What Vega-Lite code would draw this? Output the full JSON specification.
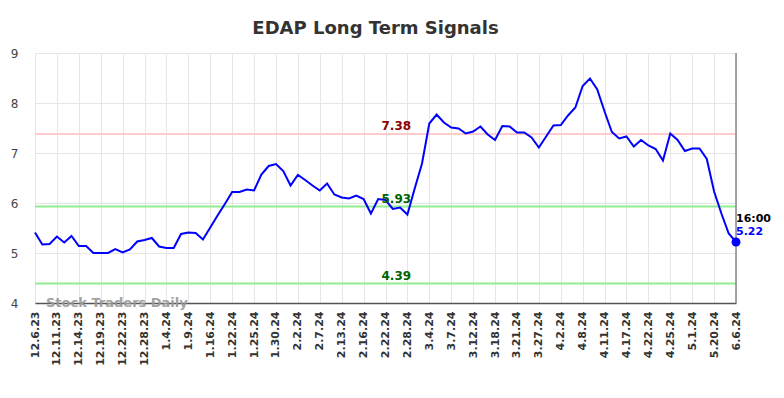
{
  "$schema": "https://vega.github.io/schema/vega-lite/v6.json",
  "width": 701,
  "height": 250,
  "autosize": {"type": "none"},
  "padding": {"left": 35, "top": 53, "right": 48, "bottom": 95},
  "background": "white",
  "title": {
    "text": "EDAP Long Term Signals",
    "font": "DejaVu Sans",
    "fontSize": 18,
    "fontWeight": "bold",
    "color": "#333333",
    "anchor": "middle",
    "dx": -10,
    "offset": 9
  },
  "config": {
    "view": {"stroke": null},
    "font": "DejaVu Sans"
  },
  "datasets": {
    "prices": [
      {"date": "12.6.23", "close": 5.41}, {"date": "12.7.23", "close": 5.17}, {"date": "12.8.23", "close": 5.18},
      {"date": "12.11.23", "close": 5.33}, {"date": "12.12.23", "close": 5.21}, {"date": "12.13.23", "close": 5.34},
      {"date": "12.14.23", "close": 5.14}, {"date": "12.15.23", "close": 5.14}, {"date": "12.18.23", "close": 5.00},
      {"date": "12.19.23", "close": 5.00}, {"date": "12.20.23", "close": 5.00}, {"date": "12.21.23", "close": 5.08},
      {"date": "12.22.23", "close": 5.01}, {"date": "12.26.23", "close": 5.07}, {"date": "12.27.23", "close": 5.23},
      {"date": "12.28.23", "close": 5.26}, {"date": "12.29.23", "close": 5.30}, {"date": "1.3.24", "close": 5.13},
      {"date": "1.4.24", "close": 5.10}, {"date": "1.5.24", "close": 5.10}, {"date": "1.8.24", "close": 5.38},
      {"date": "1.9.24", "close": 5.41}, {"date": "1.10.24", "close": 5.40}, {"date": "1.12.24", "close": 5.27},
      {"date": "1.16.24", "close": 5.51}, {"date": "1.17.24", "close": 5.75}, {"date": "1.19.24", "close": 5.98},
      {"date": "1.22.24", "close": 6.22}, {"date": "1.23.24", "close": 6.22}, {"date": "1.24.24", "close": 6.27},
      {"date": "1.25.24", "close": 6.25}, {"date": "1.26.24", "close": 6.57}, {"date": "1.29.24", "close": 6.74},
      {"date": "1.30.24", "close": 6.78}, {"date": "1.31.24", "close": 6.64}, {"date": "2.1.24", "close": 6.35},
      {"date": "2.2.24", "close": 6.56}, {"date": "2.5.24", "close": 6.46}, {"date": "2.6.24", "close": 6.35},
      {"date": "2.7.24", "close": 6.25}, {"date": "2.8.24", "close": 6.39}, {"date": "2.12.24", "close": 6.17},
      {"date": "2.13.24", "close": 6.11}, {"date": "2.14.24", "close": 6.09}, {"date": "2.15.24", "close": 6.15},
      {"date": "2.16.24", "close": 6.08}, {"date": "2.20.24", "close": 5.79}, {"date": "2.21.24", "close": 6.08},
      {"date": "2.22.24", "close": 6.06}, {"date": "2.23.24", "close": 5.88}, {"date": "2.27.24", "close": 5.91},
      {"date": "2.28.24", "close": 5.77}, {"date": "2.29.24", "close": 6.29}, {"date": "3.1.24", "close": 6.79},
      {"date": "3.4.24", "close": 7.59}, {"date": "3.5.24", "close": 7.77}, {"date": "3.6.24", "close": 7.61},
      {"date": "3.7.24", "close": 7.51}, {"date": "3.8.24", "close": 7.49}, {"date": "3.11.24", "close": 7.39},
      {"date": "3.12.24", "close": 7.43}, {"date": "3.13.24", "close": 7.53}, {"date": "3.15.24", "close": 7.37},
      {"date": "3.18.24", "close": 7.26}, {"date": "3.19.24", "close": 7.54}, {"date": "3.20.24", "close": 7.53},
      {"date": "3.21.24", "close": 7.41}, {"date": "3.22.24", "close": 7.41}, {"date": "3.26.24", "close": 7.31},
      {"date": "3.27.24", "close": 7.11}, {"date": "3.28.24", "close": 7.33}, {"date": "4.1.24", "close": 7.55},
      {"date": "4.2.24", "close": 7.56}, {"date": "4.3.24", "close": 7.75}, {"date": "4.5.24", "close": 7.91},
      {"date": "4.8.24", "close": 8.34}, {"date": "4.9.24", "close": 8.49}, {"date": "4.10.24", "close": 8.27},
      {"date": "4.11.24", "close": 7.83}, {"date": "4.15.24", "close": 7.42}, {"date": "4.16.24", "close": 7.29},
      {"date": "4.17.24", "close": 7.33}, {"date": "4.18.24", "close": 7.13}, {"date": "4.19.24", "close": 7.26},
      {"date": "4.22.24", "close": 7.15}, {"date": "4.23.24", "close": 7.08}, {"date": "4.24.24", "close": 6.85},
      {"date": "4.25.24", "close": 7.39}, {"date": "4.26.24", "close": 7.26}, {"date": "4.30.24", "close": 7.04},
      {"date": "5.1.24", "close": 7.09}, {"date": "5.8.24", "close": 7.09}, {"date": "5.15.24", "close": 6.88},
      {"date": "5.20.24", "close": 6.23}, {"date": "5.24.24", "close": 5.79}, {"date": "5.31.24", "close": 5.39},
      {"date": "6.6.24", "close": 5.22}
    ],
    "levels": [
      {"level": 7.38, "kind": "resistance"},
      {"level": 5.93, "kind": "support"},
      {"level": 4.39, "kind": "support"}
    ]
  },
  "layer": [
    {
      "data": {"name": "levels"},
      "mark": {"type": "rule", "strokeWidth": 2},
      "encoding": {
        "y": {"field": "level", "type": "quantitative"},
        "color": {
          "field": "kind", "type": "nominal", "legend": null,
          "scale": {"domain": ["resistance", "support"], "range": ["#ffcaca", "#90ee90"]}
        }
      }
    },
    {
      "data": {"name": "prices"},
      "mark": {"type": "line", "color": "#0000ff", "strokeWidth": 2},
      "encoding": {
        "x": {
          "field": "date", "type": "ordinal", "sort": null,
          "scale": {"type": "point", "padding": 0},
          "axis": {
            "title": null,
            "values": ["12.6.23","12.11.23","12.14.23","12.19.23","12.22.23","12.28.23","1.4.24","1.9.24","1.16.24","1.22.24","1.25.24","1.30.24","2.2.24","2.7.24","2.13.24","2.16.24","2.22.24","2.28.24","3.4.24","3.7.24","3.12.24","3.18.24","3.21.24","3.27.24","4.2.24","4.8.24","4.11.24","4.17.24","4.22.24","4.25.24","5.1.24","5.20.24","6.6.24"],
            "labelAngle": -90,
            "labelFont": "DejaVu Sans",
            "labelFontSize": 11,
            "labelFontWeight": "bold",
            "labelColor": "#333333",
            "labelPadding": 8,
            "ticks": false,
            "grid": true,
            "gridColor": "#e6e6e6",
            "gridWidth": 1,
            "domainColor": "#555555",
            "domainWidth": 1.5
          }
        },
        "y": {
          "field": "close", "type": "quantitative",
          "scale": {"domain": [4, 9], "nice": false, "zero": false},
          "axis": {
            "title": null,
            "values": [4, 5, 6, 7, 8, 9],
            "labelFont": "DejaVu Sans",
            "labelFontSize": 12,
            "labelColor": "#444444",
            "labelPadding": 17,
            "ticks": false,
            "domain": false,
            "grid": true,
            "gridColor": "#e6e6e6",
            "gridWidth": 1
          }
        }
      }
    },
    {
      "data": {"name": "levels"},
      "mark": {"type": "text", "fontSize": 12, "fontWeight": "bold", "font": "DejaVu Sans", "align": "center", "baseline": "bottom", "dx": 3.5, "dy": -1},
      "encoding": {
        "x": {"datum": "2.23.24"},
        "y": {"field": "level", "type": "quantitative"},
        "text": {"field": "level", "type": "quantitative", "format": ".2f"},
        "color": {
          "field": "kind", "type": "nominal", "legend": null,
          "scale": {"domain": ["resistance", "support"], "range": ["#8b0000", "#006400"]}
        }
      }
    },
    {
      "data": {"name": "prices"},
      "transform": [{"filter": "datum.date === '6.6.24'"}],
      "mark": {"type": "rule", "color": "#888888", "strokeWidth": 1.5},
      "encoding": {
        "x": {"field": "date", "type": "ordinal", "sort": null}
      }
    },
    {
      "data": {"name": "prices"},
      "transform": [{"filter": "datum.date === '6.6.24'"}],
      "mark": {"type": "point", "filled": true, "color": "#0000ff", "size": 80, "opacity": 1},
      "encoding": {
        "x": {"field": "date", "type": "ordinal", "sort": null},
        "y": {"field": "close", "type": "quantitative"}
      }
    },
    {
      "data": {"name": "prices"},
      "transform": [{"filter": "datum.date === '6.6.24'"}],
      "mark": {"type": "text", "text": "16:00", "fontSize": 11, "fontWeight": "bold", "font": "DejaVu Sans", "align": "left", "baseline": "middle", "dx": 0, "dy": -23, "color": "#000000"},
      "encoding": {
        "x": {"field": "date", "type": "ordinal", "sort": null},
        "y": {"field": "close", "type": "quantitative"}
      }
    },
    {
      "data": {"name": "prices"},
      "transform": [{"filter": "datum.date === '6.6.24'"}],
      "mark": {"type": "text", "fontSize": 11, "fontWeight": "bold", "font": "DejaVu Sans", "align": "left", "baseline": "middle", "dx": 0, "dy": -10, "color": "#0000ff"},
      "encoding": {
        "x": {"field": "date", "type": "ordinal", "sort": null},
        "y": {"field": "close", "type": "quantitative"},
        "text": {"field": "close", "type": "quantitative", "format": ".2f"}
      }
    },
    {
      "data": {"name": "prices"},
      "transform": [{"filter": "datum.date === '12.6.23'"}],
      "mark": {"type": "text", "text": "Stock Traders Daily", "fontSize": 13, "fontWeight": "bold", "font": "DejaVu Sans", "align": "left", "baseline": "middle", "dx": 11, "dy": 0, "color": "#999999", "opacity": 0.9},
      "encoding": {
        "x": {"field": "date", "type": "ordinal", "sort": null},
        "y": {"datum": 4}
      }
    }
  ],
  "resolve": {"scale": {"color": "independent"}}
}
